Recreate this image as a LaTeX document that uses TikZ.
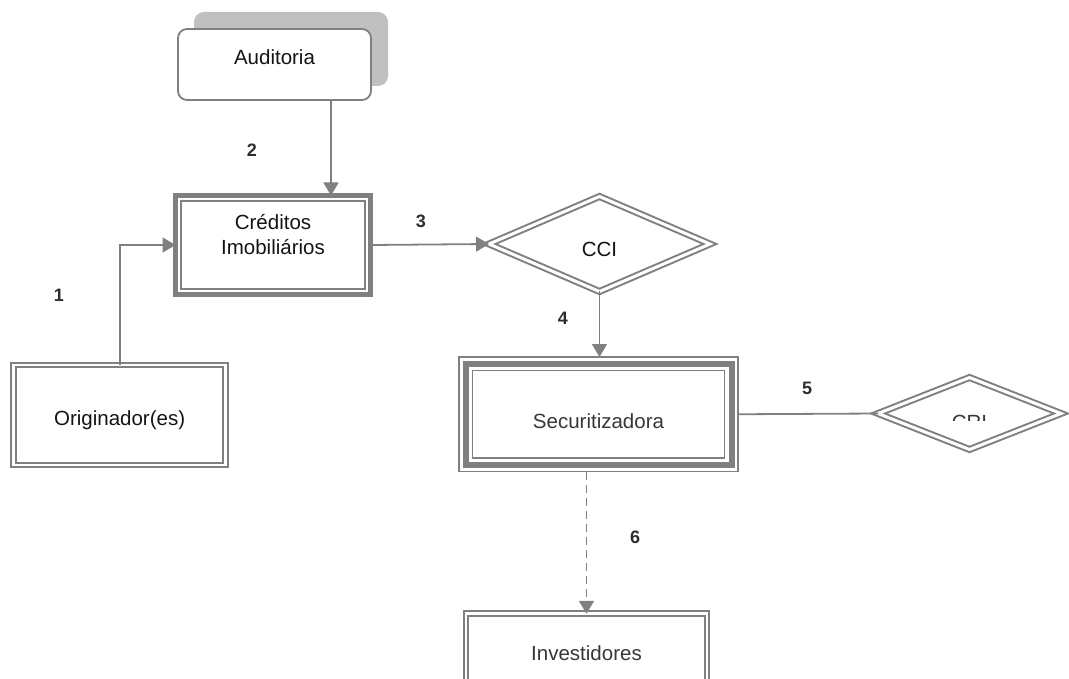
\documentclass[tikz,border=0pt]{standalone}
\usepackage{fontspec}
\setmainfont{Liberation Sans}
\usetikzlibrary{arrows.meta,shapes.geometric}
\definecolor{ln}{RGB}{128,128,128}
\definecolor{shd}{RGB}{192,192,192}
\definecolor{txt}{RGB}{20,20,20}
\definecolor{txtg}{RGB}{55,55,55}
\definecolor{num}{RGB}{45,45,45}
\newcommand{\shiftup}[2]{\raisebox{#1}[\height][\depth]{#2}}
\begin{document}
\begin{tikzpicture}[x=1pt,y=-1pt,
  every node/.style={font=\fontsize{20.5}{25}\selectfont, inner sep=0pt, outer sep=0pt, align=center, text=txt},
  rbox/.style={draw=ln, line width=1.8pt, fill=white, rounded corners=9pt},
  thickbox/.style={draw=ln, line width=5pt, fill=white},
  thinline/.style={draw=ln, line width=1.6pt},
  dblbox/.style={draw=ln, line width=2pt, double=white, double distance=2.8pt},
  dbldiam/.style={diamond, draw=ln, line width=2pt, double=white, double distance=3pt},
  numlabel/.style={font=\fontsize{18}{20}\selectfont\bfseries, text=num},
  arr/.style={draw=ln, line width=1.8pt, -{Triangle[width=15pt,length=13pt]}},
  plain/.style={draw=ln, line width=1.8pt},
  dashedarr/.style={arr, dash pattern=on 8pt off 5pt}
]
\clip (0,0) rectangle (1069,679);
\fill[white] (0,0) rectangle (1069,679);

% Auditoria with shadow
\fill[shd, rounded corners=10pt] (194,12) rectangle (388,86);
\node[rbox, minimum width=193pt, minimum height=71pt] (aud) at (274.5,64.5) {\shiftup{7pt}{Auditoria}};

% Creditos Imobiliarios
\node[thickbox, minimum width=195pt, minimum height=99pt] (cred) at (273,245)
  {\shiftup{8pt}{\begin{tabular}{@{}c@{}}Créditos\\Imobiliários\end{tabular}}};
\draw[thinline] ([xshift=5.5pt,yshift=-5.5pt]cred.north west) rectangle ([xshift=-5.5pt,yshift=5.5pt]cred.south east);

% CCI
\node[dbldiam, minimum width=221pt, minimum height=95pt, fill=white] (cci) at (599.5,244) {\shiftup{-5.5pt}{CCI}};

% Securitizadora
\node[draw=ln, line width=1.8pt, fill=white, minimum width=279pt, minimum height=114.5pt, text=txtg] (sec) at (598.5,414.25) {\shiftup{-7pt}{Securitizadora}};
\draw[draw=ln, line width=6pt] ([xshift=6.5pt,yshift=-6.5pt]sec.north west) rectangle ([xshift=-6.5pt,yshift=6.5pt]sec.south east);
\draw[draw=ln, line width=1.8pt] ([xshift=13.5pt,yshift=-13.5pt]sec.north west) rectangle ([xshift=-13.5pt,yshift=13.5pt]sec.south east);

% CRI (text clipped as in the reference)
\node[dbldiam, minimum width=183pt, minimum height=72pt, fill=white] (cri) at (969.5,413.5) {};
\begin{scope}
  \clip (880,380) rectangle (1060,420);
  \node[anchor=base, text=txtg] (crit) at (969.5,429.5) {CRI};
\end{scope}

% Originador(es)
\node[dblbox, fill=white, minimum width=212pt, minimum height=100pt] (orig) at (119.6,414.9) {\shiftup{-5.5pt}{Originador(es)}};

% Investidores
\node[dblbox, fill=white, minimum width=241pt, minimum height=86.2pt, text=txtg] (inv) at (586.5,656.9) {\shiftup{3.4pt}{Investidores}};

% connectors
\draw[arr] (orig.north) |- (cred.west);
\draw[arr] ([xshift=56.5pt]aud.south) -- ([xshift=56.5pt]aud.south |- cred.north);
\draw[arr] (cred.east) -- (cci.west);
\draw[arr] (cci.south) -- (cci.south |- sec.north);
\draw[plain] (sec.east) -- (cri.west);
\draw[dashedarr] (inv.north |- sec.south) -- (inv.north);

% step numbers
\node[numlabel] (n1) at (59,295) {1};
\node[numlabel] (n2) at (252,150) {2};
\node[numlabel] (n3) at (421,221) {3};
\node[numlabel] (n4) at (563,318) {4};
\node[numlabel] (n5) at (807,388) {5};
\node[numlabel] (n6) at (635,537) {6};
\end{tikzpicture}
\end{document}
